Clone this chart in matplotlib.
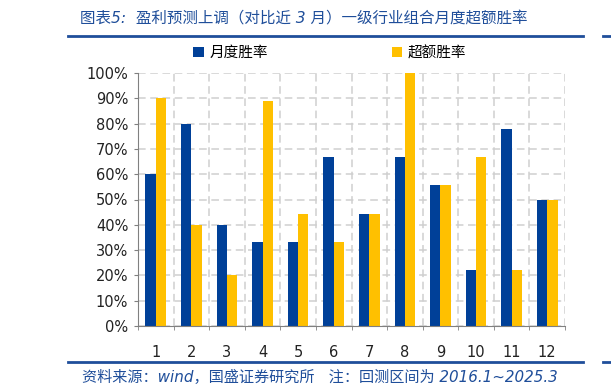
import matplotlib
matplotlib.use('Agg')
import matplotlib.pyplot as plt
import numpy as np
from matplotlib.lines import Line2D

plt.rcParams['font.family'] = ['DejaVu Sans', 'Noto Sans CJK SC']

months = ['1', '2', '3', '4', '5', '6', '7', '8', '9', '10', '11', '12']
win_rate = [60.0, 80.0, 40.0, 33.3, 33.3, 66.7, 44.4, 66.7, 55.6, 22.2, 77.8, 50.0]
excess_rate = [90.0, 40.0, 20.0, 88.9, 44.4, 33.3, 44.4, 100.0, 55.6, 66.7, 22.2, 50.0]
yticks = np.arange(0, 101, 10)

blue = '#004098'
yellow = '#FFC000'
text_blue = '#1F4E9A'
cjk = ['Noto Sans CJK SC', 'DejaVu Sans']
latin_first = ['DejaVu Sans', 'Noto Sans CJK SC']

fig = plt.figure(figsize=(6.11, 3.92), dpi=100)
ax = fig.add_axes([138 / 611, 1 - 326 / 392, 427 / 611, 253 / 392])

x = np.arange(len(months))
w = 0.29
b1 = ax.bar(x - w / 2, win_rate, w, color=blue, zorder=3, label='月度胜率')
b2 = ax.bar(x + w / 2, excess_rate, w, color=yellow, zorder=3, label='超额胜率')

ax.set_xlim(-0.5, len(months) - 0.5)
ax.set_ylim(0, 100)
ax.set_yticks(yticks)
ax.set_yticklabels(['%d%%' % v for v in yticks], fontsize=10.5, color='#222222')
ax.set_xticks(x)
ax.set_xticklabels(months, fontsize=10.5, color='#222222')
ax.set_xticks(np.arange(-0.5, len(months), 1), minor=True)
ax.tick_params(axis='x', which='major', length=0, pad=14)
ax.tick_params(axis='x', which='minor', length=3, color='#808080')
ax.tick_params(axis='y', length=3, color='#808080', pad=4)

ax.grid(axis='y', which='major', color='#CFCFCF', linestyle=(0, (5, 3)), linewidth=1.1, zorder=0)
ax.grid(axis='x', which='minor', color='#CFCFCF', linestyle=(0, (5, 3)), linewidth=1.1, zorder=0)
ax.set_axisbelow(True)
for s in ['top', 'right']:
    ax.spines[s].set_visible(False)
for s in ['left', 'bottom']:
    ax.spines[s].set_color('#808080')
    ax.spines[s].set_zorder(4)

leg = fig.legend(handles=[b1, b2], loc='center', bbox_to_anchor=(330 / 611, 1 - 53 / 392),
                 ncol=2, frameon=False, prop={'family': cjk, 'size': 10.5},
                 handlelength=0.7, handleheight=0.7, handletextpad=0.4, columnspacing=8.5)

fig.text(80 / 611, 1 - 18 / 392, '图表5:  盈利预测上调（对比近 3 月）一级行业组合月度超额胜率',
         family=latin_first, fontsize=11.2, style='italic', color=text_blue, va='center', ha='left')
fig.add_artist(Line2D([68 / 611, 583 / 611], [1 - 35.5 / 392] * 2, color=text_blue, lw=2))
fig.add_artist(Line2D([603 / 611, 1], [1 - 35.5 / 392] * 2, color=text_blue, lw=2))
fig.add_artist(Line2D([68 / 611, 583 / 611], [1 - 362 / 392] * 2, color=text_blue, lw=2))
fig.add_artist(Line2D([603 / 611, 1], [1 - 362 / 392] * 2, color=text_blue, lw=2))
fig.text(82 / 611, 1 - 377 / 392, '资料来源：wind，国盛证券研究所   注：回测区间为 2016.1~2025.3',
         family=latin_first, fontsize=10.9, style='italic', color=text_blue, va='center', ha='left')

fig.savefig('out.png', dpi=100)
